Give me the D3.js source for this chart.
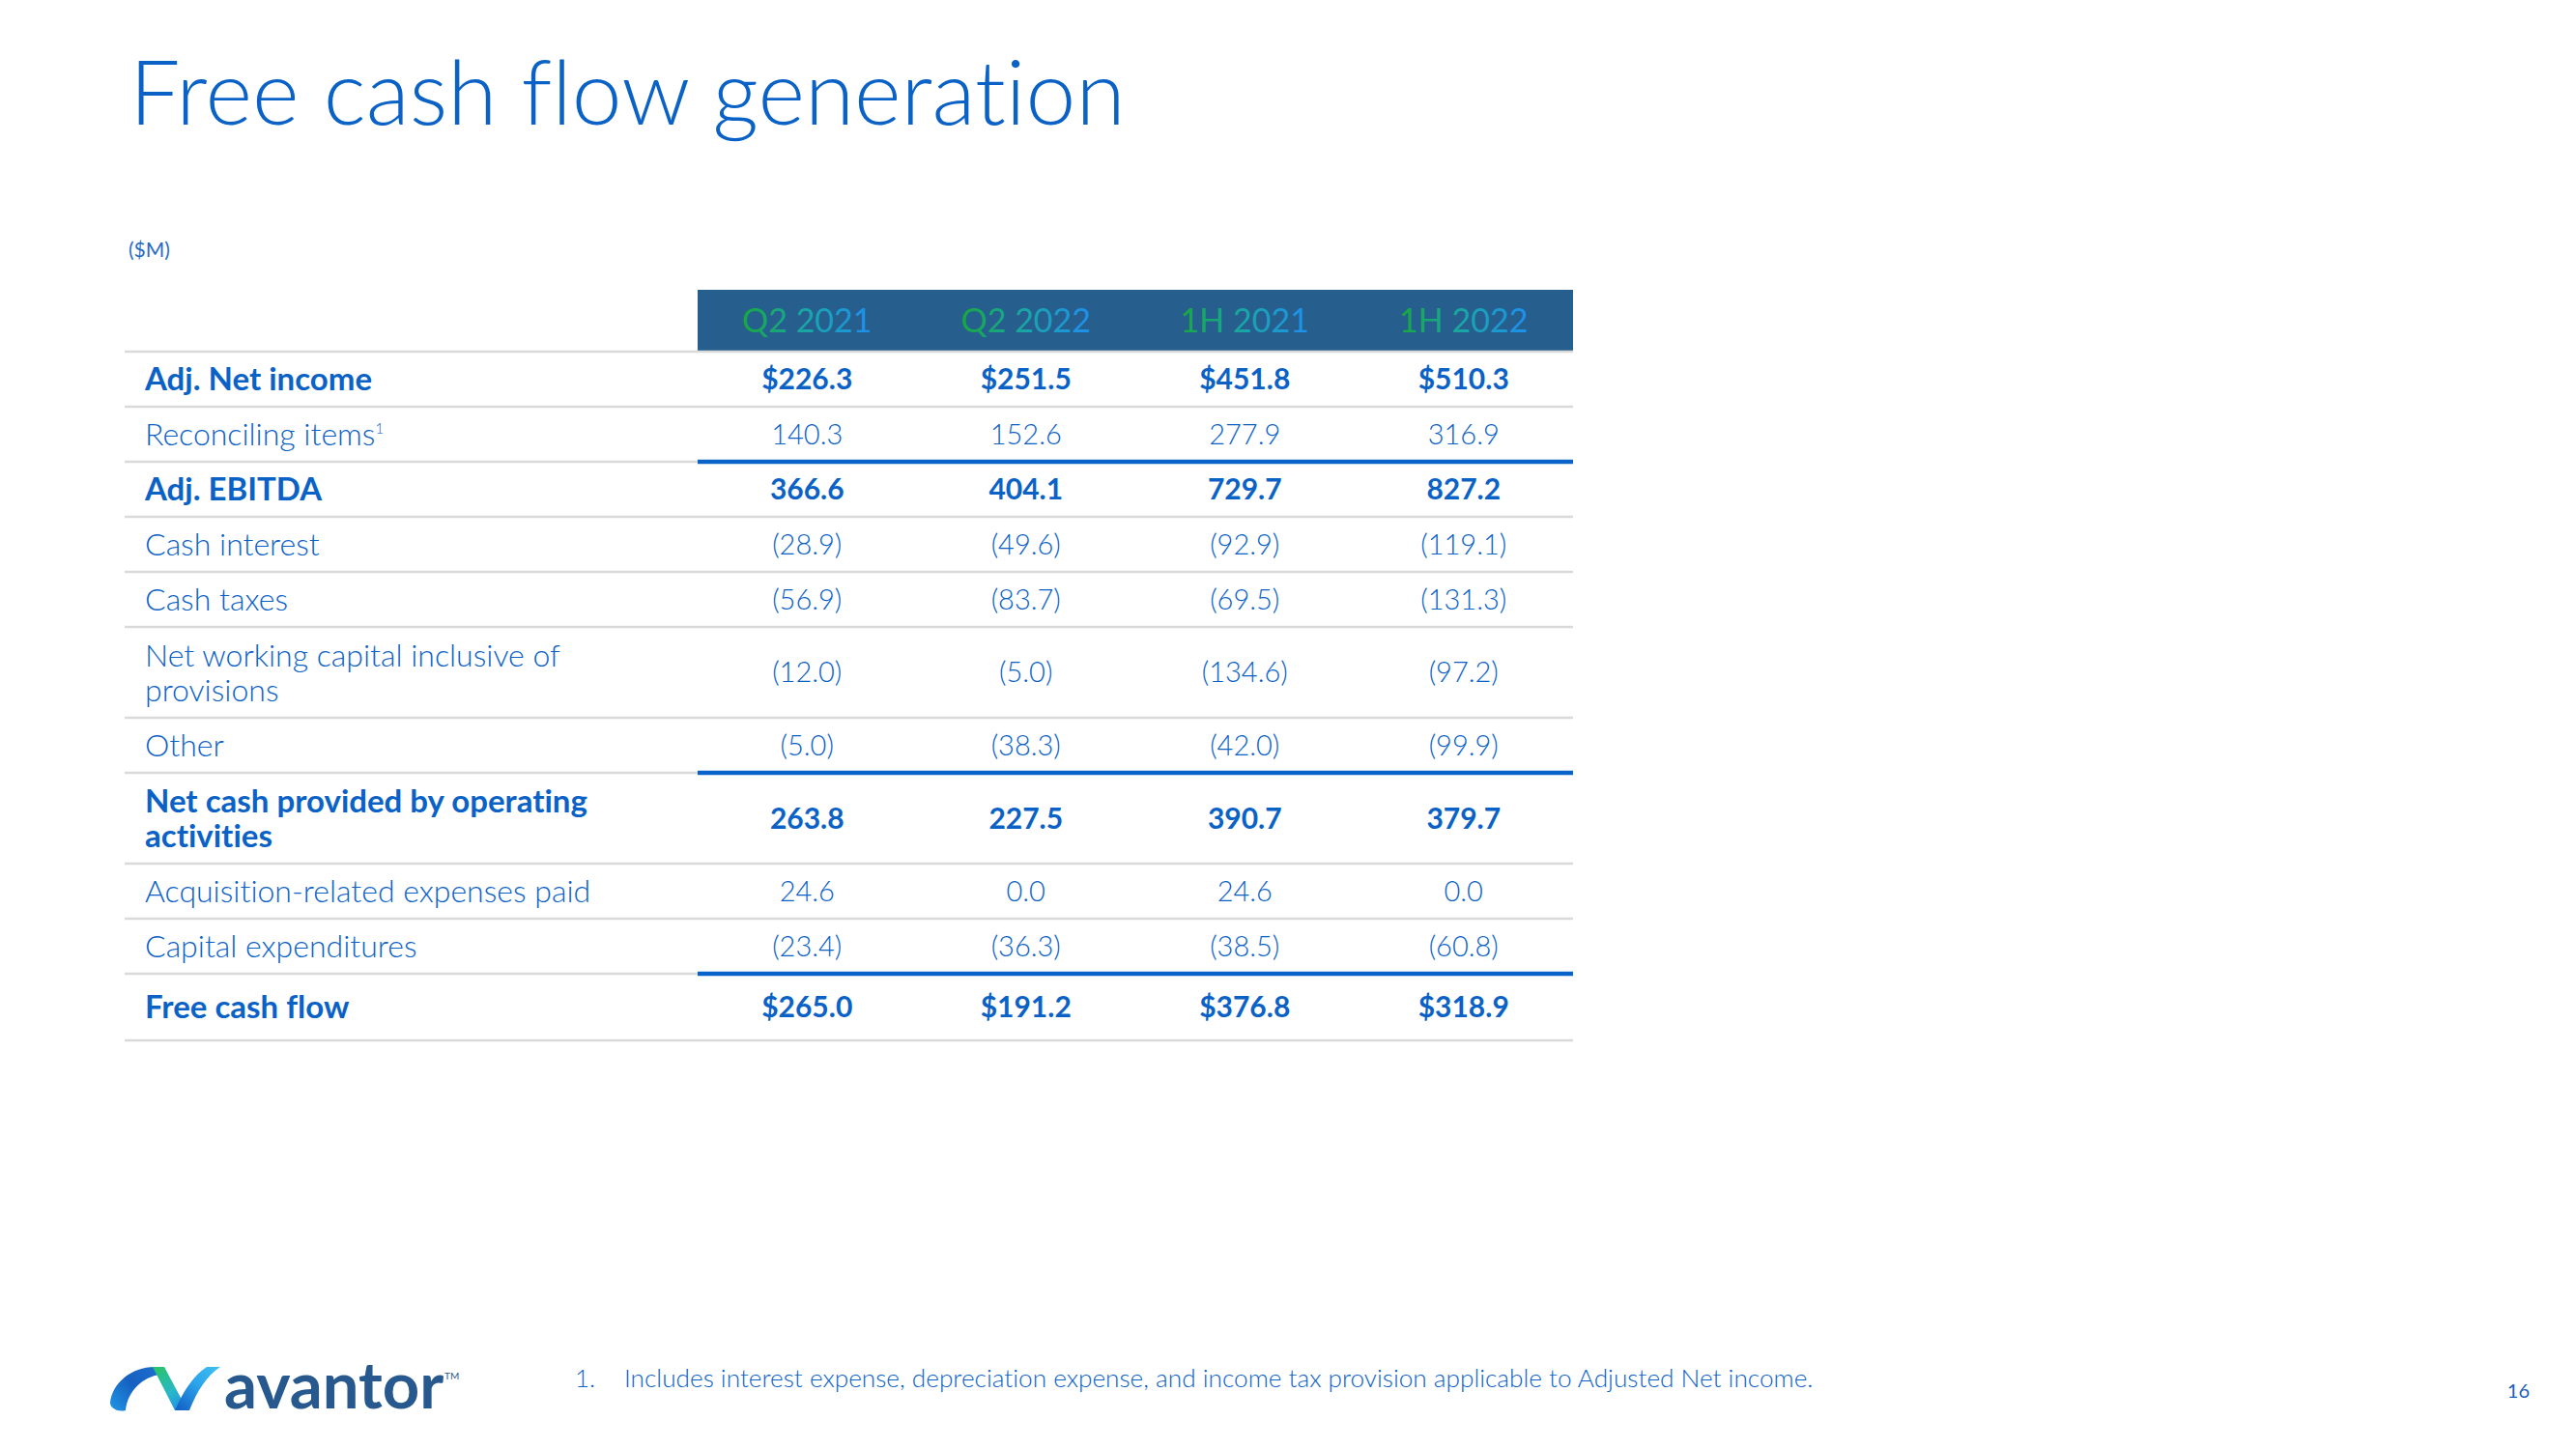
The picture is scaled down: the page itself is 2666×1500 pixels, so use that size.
<!DOCTYPE html>
<html><head><meta charset="utf-8">
<script src="https://cdn.jsdelivr.net/npm/d3@7"></script>
<style>html,body{margin:0;padding:0;background:#fff;} svg{display:block;} svg text{font-variant-ligatures:none;font-feature-settings:"liga" 0,"clig" 0;}</style>
</head><body>
<script>
// ---------- DATA ----------
const titleText = "Free cash flow generation";
const unitText = "($M)";
const columns = ["Q2 2021", "Q2 2022", "1H 2021", "1H 2022"];
const rowLabels = [
  "Adj. Net income",
  "Reconciling items¹",
  "Adj. EBITDA",
  "Cash interest",
  "Cash taxes",
  "Net working capital inclusive of\nprovisions",
  "Other",
  "Net cash provided by operating\nactivities",
  "Acquisition-related expenses paid",
  "Capital expenditures",
  "Free cash flow"
];
const valuesQ2_2021 = [226.3, 140.3, 366.6, -28.9, -56.9, -12.0, -5.0, 263.8, 24.6, -23.4, 265.0];
const valuesQ2_2022 = [251.5, 152.6, 404.1, -49.6, -83.7, -5.0, -38.3, 227.5, 0.0, -36.3, 191.2];
const values1H_2021 = [451.8, 277.9, 729.7, -92.9, -69.5, -134.6, -42.0, 390.7, 24.6, -38.5, 376.8];
const values1H_2022 = [510.3, 316.9, 827.2, -119.1, -131.3, -97.2, -99.9, 379.7, 0.0, -60.8, 318.9];
const boldRows = [0, 2, 7, 10];
const dollarRows = [0, 10];
const blueRuleRows = [1, 6, 9];
const footnoteNumber = "1.";
const footnoteText = "Includes interest expense, depreciation expense, and income tax provision applicable to Adjusted Net income.";
const logoText = "avantor";
const pageNumber = "16";

// ---------- LAYOUT ----------
const W = 2666, H = 1500;
const blue = "#0b62c6", headerBg = "#265e8e", gray = "#d9d9d9", ruleBlue = "#0a63c8";
const font = "Lato, 'Open Sans', sans-serif";
const series = [valuesQ2_2021, valuesQ2_2022, values1H_2021, values1H_2022];

const svg = d3.select("body").append("svg").attr("width", W).attr("height", H);
const defs = svg.append("defs");

const hg = defs.append("linearGradient").attr("id", "hdrGrad").attr("x1", "0").attr("x2", "1").attr("y1", "0").attr("y2", "0");
hg.append("stop").attr("offset", "0").attr("stop-color", "#17a83f");
hg.append("stop").attr("offset", "0.5").attr("stop-color", "#19a6a8");
hg.append("stop").attr("offset", "1").attr("stop-color", "#1e8ff0");

// Title
svg.append("text").attr("x", 134).attr("y", 129)
  .attr("font-family", font).attr("font-weight", 300).attr("font-size", 93)
  .attr("fill", blue).text(titleText);
svg.append("text").attr("x", 133).attr("y", 266)
  .attr("font-family", font).attr("font-weight", 400).attr("font-size", 21)
  .attr("fill", "#2a6cc4").text(unitText);

const tableLeft = 129, tableRight = 1628, colLeft = 722;
const headerTop = 300, headerBottom = 363;
const x = d3.scaleBand().domain(columns).range([colLeft, tableRight]).paddingInner(0).paddingOuter(0);

// header
svg.append("rect").attr("x", colLeft).attr("y", headerTop).attr("width", tableRight - colLeft).attr("height", headerBottom - headerTop).attr("fill", headerBg);
svg.selectAll("text.hdr").data(columns).join("text").attr("class", "hdr")
  .attr("x", d => x(d) + x.bandwidth() / 2).attr("y", (headerTop + headerBottom) / 2).attr("dy", "0.36em")
  .attr("text-anchor", "middle").attr("font-family", font).attr("font-size", 34).attr("font-weight", 400)
  .attr("fill", "url(#hdrGrad)").text(d => d);

// rows
const rowData = rowLabels.map((label, i) => {
  const lines = label.split("\n");
  const last = i === rowLabels.length - 1;
  const h = lines.length > 1 ? 94 : (last ? 69 : 57);
  return { i, lines, h, bold: boldRows.includes(i), dollar: dollarRows.includes(i), blueRule: blueRuleRows.includes(i) };
});
let yAcc = headerBottom + 1;
rowData.forEach(r => { r.y0 = yAcc; yAcc += r.h; r.y1 = yAcc; });

svg.append("line").attr("x1", tableLeft).attr("x2", tableRight).attr("y1", headerBottom + 1).attr("y2", headerBottom + 1)
  .attr("stroke", gray).attr("stroke-width", 2.5);

const fmt = d3.format(",.1f");
const fmtVal = (v, r) => {
  const s = (r.dollar ? "$" : "") + fmt(Math.abs(v));
  return v < 0 ? "(" + s + ")" : s;
};

const g = svg.append("g");
rowData.forEach(r => {
  const mid = (r.y0 + r.y1) / 2;
  if (r.blueRule) {
    g.append("line").attr("x1", tableLeft).attr("x2", colLeft).attr("y1", r.y1).attr("y2", r.y1).attr("stroke", gray).attr("stroke-width", 2.5);
    g.append("line").attr("x1", colLeft).attr("x2", tableRight).attr("y1", r.y1).attr("y2", r.y1).attr("stroke", ruleBlue).attr("stroke-width", 4.5);
  } else {
    g.append("line").attr("x1", tableLeft).attr("x2", tableRight).attr("y1", r.y1).attr("y2", r.y1).attr("stroke", gray).attr("stroke-width", 2.5);
  }
  const lh = 36;
  const t = g.append("text").attr("font-family", font).attr("font-size", r.bold ? 33 : 32)
    .attr("font-weight", r.bold ? 700 : 300).attr("fill", blue);
  r.lines.forEach((ln, k) => {
    const ty = mid + (k - (r.lines.length - 1) / 2) * lh;
    const sup = ln.endsWith("¹");
    t.append("tspan").attr("x", 150).attr("y", ty).attr("dy", "0.36em").text(sup ? ln.slice(0, -1) : ln);
    if (sup) t.append("tspan").attr("dy", "-0.8em").attr("font-size", 15).attr("font-weight", 300).text("1");
  });
  columns.forEach((c, ci) => {
    g.append("text").attr("x", x(c) + x.bandwidth() / 2).attr("y", mid).attr("dy", "0.36em")
      .attr("text-anchor", "middle").attr("font-family", font).attr("font-size", r.bold ? 30 : 29)
      .attr("font-weight", r.bold ? 700 : 300).attr("fill", blue)
      .text(fmtVal(series[ci][r.i], r));
  });
});

// footnote
svg.append("text").attr("x", 595).attr("y", 1436).attr("font-family", font).attr("font-size", 26).attr("font-weight", 300).attr("fill", blue).text(footnoteNumber);
svg.append("text").attr("x", 646).attr("y", 1436).attr("font-family", font).attr("font-size", 26.2).attr("font-weight", 300).attr("fill", blue).text(footnoteText);

// page number
svg.append("text").attr("x", 2618).attr("y", 1447).attr("text-anchor", "end").attr("font-family", font).attr("font-size", 20).attr("fill", "#1a5fb8").text(pageNumber);

// logo
const lg1 = defs.append("linearGradient").attr("id", "lgL").attr("gradientUnits", "userSpaceOnUse").attr("x1", 118).attr("y1", 1458).attr("x2", 165).attr("y2", 1417);
lg1.append("stop").attr("offset", 0).attr("stop-color", "#1f8fe0");
lg1.append("stop").attr("offset", 0.5).attr("stop-color", "#1560c0");
lg1.append("stop").attr("offset", 1).attr("stop-color", "#1d6fd0");
const lg2 = defs.append("linearGradient").attr("id", "lgM").attr("gradientUnits", "userSpaceOnUse").attr("x1", 160).attr("y1", 1417).attr("x2", 188).attr("y2", 1458);
lg2.append("stop").attr("offset", 0).attr("stop-color", "#27c46a");
lg2.append("stop").attr("offset", 0.6).attr("stop-color", "#2ab7c9");
lg2.append("stop").attr("offset", 1).attr("stop-color", "#1f90e6");
const lg3 = defs.append("linearGradient").attr("id", "lgR").attr("gradientUnits", "userSpaceOnUse").attr("x1", 186).attr("y1", 1458).attr("x2", 228).attr("y2", 1416);
lg3.append("stop").attr("offset", 0).attr("stop-color", "#1565c8");
lg3.append("stop").attr("offset", 0.5).attr("stop-color", "#2aa3ea");
lg3.append("stop").attr("offset", 1).attr("stop-color", "#3fc0f2");
const logo = svg.append("g");
// left ribbon: curved "/" rising from bottom-left to the top
logo.append("path").attr("d", "M114,1452 C116,1432 136,1415 160,1415 L166,1423 C148,1425 132,1440 130,1460 C122,1462 114,1458 114,1452 Z").attr("fill", "url(#lgL)");
// middle ribbon: "\" from top down to bottom
logo.append("path").attr("d", "M158,1415 L170,1415 L194,1460 L181,1460 Z").attr("fill", "url(#lgM)");
// right ribbon: "/" from bottom up to top-right
logo.append("path").attr("d", "M181,1460 L196,1460 C204,1440 214,1424 228,1415 L214,1415 C200,1424 190,1440 181,1460 Z").attr("fill", "url(#lgR)");
svg.append("text").attr("x", 232).attr("y", 1458).attr("font-family", font).attr("font-weight", 700).attr("font-size", 67).attr("fill", "#27598e").text(logoText);
svg.append("text").attr("x", 460).attr("y", 1428).attr("font-family", font).attr("font-weight", 400).attr("font-size", 10).attr("fill", "#27598e").text("TM");
</script>
</body></html>
